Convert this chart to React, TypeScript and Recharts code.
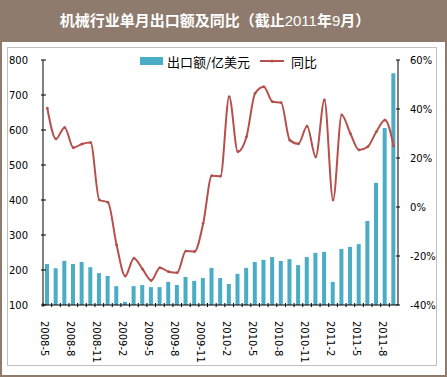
import { Bar, ComposedChart, Line, XAxis, YAxis } from "recharts";

const months = [
  "2008-5", "2008-6", "2008-7", "2008-8", "2008-9", "2008-10", "2008-11", "2008-12",
  "2009-1", "2009-2", "2009-3", "2009-4", "2009-5", "2009-6", "2009-7", "2009-8",
  "2009-9", "2009-10", "2009-11", "2009-12", "2010-1", "2010-2", "2010-3", "2010-4",
  "2010-5", "2010-6", "2010-7", "2010-8", "2010-9", "2010-10", "2010-11", "2010-12",
  "2011-1", "2011-2", "2011-3", "2011-4", "2011-5", "2011-6", "2011-7", "2011-8", "2011-9",
];

// 出口额/亿美元
const exportValues = [
  217, 205, 226, 217, 223, 208, 191, 183, 154, 109, 154, 157, 151, 151, 166, 157,
  180, 169, 177, 206, 177, 160, 189, 206, 223, 229, 237, 226, 231, 214, 237, 249,
  252, 166, 260, 266, 274, 340, 449, 606, 762,
];

// 同比 (%)
const yoyValues = [
  40.3, 27.8, 32.5, 24.2, 25.7, 26.3, 2.9, 1.9, -15.5, -28.2, -20.9, -25.4, -30, -24.8,
  -26.4, -26.8, -18, -18.2, -6.7, 12.8, 12.6, 45, 22.6, 28.7, 46.4, 49.1, 43, 42.6, 27.3,
  25.8, 33, 20.5, 43.7, 2.9, 37.6, 30, 23.3, 24.6, 30.7, 35.5, 24.9,
];

const leftTicks = [100, 150, 200, 250, 300, 350, 400, 450, 500, 550, 600, 650, 700, 750, 800];
const rightTicks = [-40, -20, 0, 20, 40, 60];

const BAR_COLOR = "#4BACC6";
const LINE_COLOR = "#B5504D";
const FONT = "'DejaVu Sans', sans-serif";
const CJK = "'Noto Sans CJK SC', sans-serif";

const data = months.map((m, i) => ({ month: m, value: exportValues[i], yoy: yoyValues[i] }));

function LeftTick(props: any) {
  const { x, y, payload } = props;
  return (
    <g>
      <line x1={x} x2={x + 5} y1={y} y2={y} stroke="#000" />
      <text x={x - 32} y={y} dy="0.35em" textAnchor="start" fontSize={10} fontFamily={FONT} fill="#000">
        {payload.value}
      </text>
    </g>
  );
}

function RightTick(props: any) {
  const { x, y, payload } = props;
  return (
    <g>
      <line x1={x - 4} x2={x} y1={y} y2={y} stroke="#000" />
      <text x={x + 10} y={y} dy="0.35em" textAnchor="start" fontSize={10} fontFamily={FONT} fill="#000">
        {payload.value}%
      </text>
    </g>
  );
}

function MonthTick(props: any) {
  const { x, y, payload, index } = props;
  const half = payload.offset ?? 4.3;
  return (
    <g>
      <line x1={x - half} x2={x - half} y1={y - 4} y2={y} stroke="#000" />
      {index % 3 === 0 && (
        <g transform={`translate(${x - 3},${y + 14})`}>
          <text transform="rotate(90)" dy="0.35em" textAnchor="start" fontSize={10} fontFamily={FONT} fill="#000">
            {payload.value}
          </text>
        </g>
      )}
    </g>
  );
}

export default function App() {
  return (
    <div style={{ position: "absolute", left: 0, top: 0, width: 447, height: 377, background: "#8E7B6D" }}>
      <div
        style={{
          position: "absolute", left: 0, top: 10, width: 430, textAlign: "center",
          color: "#fff", fontFamily: CJK, fontWeight: 700, fontSize: 15, lineHeight: "20px",
        }}
      >
        机械行业单月出口额及同比（截止<span style={{ fontFamily: "'Liberation Sans', sans-serif", fontWeight: 400 }}>2011</span>年<span style={{ fontFamily: "'Liberation Sans', sans-serif", fontWeight: 400 }}>9</span>月）
      </div>
      <div style={{ position: "absolute", left: 2, top: 42, width: 443, height: 333, background: "#fff" }} />
      <div style={{ position: "absolute", left: 7, top: 47, width: 430, height: 319, border: "1px solid #C0C0C0", boxSizing: "border-box" }} />
      <div style={{ position: "absolute", left: 0, top: 0 }}>
        <ComposedChart width={447} height={377} data={data} margin={{ top: 60, right: 0, bottom: 0, left: 0 }}>
          <XAxis
            dataKey="month"
            height={72}
            interval={0}
            tickSize={0}
            tickLine={false}
            axisLine={{ stroke: "#000" }}
            tick={<MonthTick />}
          />
          <YAxis
            yAxisId="l"
            width={43}
            domain={[100, 800]}
            ticks={leftTicks}
            tickSize={0}
            tickLine={false}
            axisLine={{ stroke: "#000" }}
            tick={<LeftTick />}
          />
          <YAxis
            yAxisId="r"
            orientation="right"
            width={49}
            domain={[-40, 60]}
            ticks={rightTicks}
            tickSize={0}
            tickLine={false}
            axisLine={{ stroke: "#000" }}
            tick={<RightTick />}
          />
          <Bar yAxisId="l" dataKey="value" fill={BAR_COLOR} barSize={4} isAnimationActive={false} />
          <Line
            yAxisId="r"
            type="monotone"
            dataKey="yoy"
            stroke={LINE_COLOR}
            strokeWidth={2}
            dot={{ r: 1, fill: LINE_COLOR, stroke: LINE_COLOR, strokeWidth: 1 }}
            isAnimationActive={false}
          />
        </ComposedChart>
      </div>
      <div style={{ position: "absolute", left: 140, top: 52, height: 18, display: "flex", alignItems: "center", fontFamily: CJK, fontSize: 13, color: "#000" }}>
        <span style={{ display: "inline-block", width: 23, height: 8, background: BAR_COLOR, marginRight: 4 }} />
        <span>出口额/亿美元</span>
        <svg width={30} height={10} style={{ marginLeft: 8, marginRight: 3 }}>
          <line x1={2} x2={26} y1={5} y2={5} stroke={LINE_COLOR} strokeWidth={2} />
          <circle cx={14} cy={5} r={1.5} fill={LINE_COLOR} />
        </svg>
        <span>同比</span>
      </div>
    </div>
  );
}
